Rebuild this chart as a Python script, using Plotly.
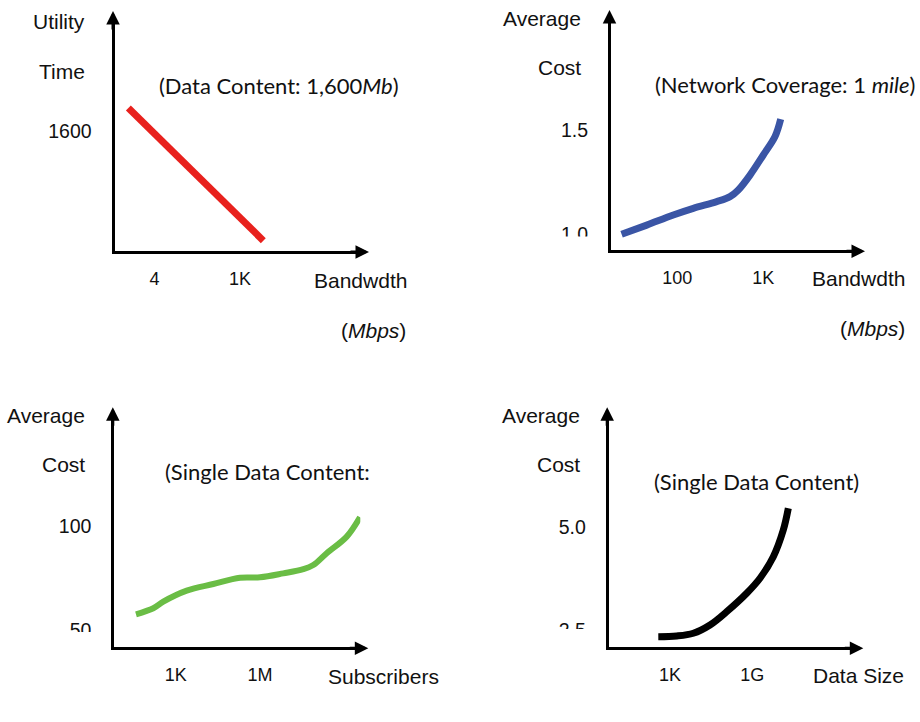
import math
import plotly.graph_objects as go

# ---------------- data ----------------
# Panel 1: Utility Time vs Bandwidth (Mbps), data content 1,600 Mb
bw1 = [0.74, 4500]
util_time1 = [1900, 150]
p1_xtickvals = [4, 1000]
p1_xticktext = ["4", "1K"]
p1_ytickvals = [1600]
p1_yticktext = ["1600"]

# Panel 2: Average Cost vs Bandwidth (Mbps), network coverage 1 mile
bw2 = [22.6, 44.3, 90.1, 153.8, 287.7, 410.6, 512.5, 701, 1000, 1368, 1592]
cost2 = [1.000, 1.044, 1.092, 1.124, 1.156, 1.180, 1.212, 1.283, 1.379, 1.467, 1.550]
p2_xtickvals = [100, 1000]
p2_xticktext = ["100", "1K"]
p2_ytickvals = [1.0, 1.5]
p2_yticktext = ["1.0", "1.5"]

# Panel 3: Average Cost vs Subscribers
subs3 = [38.6, 160, 362, 2460, 21800, 1.94e5, 1.0e6, 6.75e6, 3.47e7, 7.89e7, 2.37e8, 1.22e9, 3.62e9]
cost3 = [57.4, 60.3, 63.5, 68.8, 72.0, 75.0, 75.2, 77.1, 79.1, 81.1, 86.8, 94.8, 104.1]
p3_xtickvals = [1e3, 1e6]
p3_xticktext = ["1K", "1M"]
p3_ytickvals = [50, 100]
p3_yticktext = ["50", "100"]

# Panel 4: Average Cost vs Data Size
size4 = [140, 3080, 5.02e4, 8.32e5, 1.38e7, 3.97e8, 3.71e9, 3.47e10, 1.86e11, 4.32e11]
cost4 = [2.330, 2.347, 2.413, 2.614, 2.937, 3.384, 3.748, 4.272, 4.920, 5.447]
p4_xtickvals = [1e3, 1e9]
p4_xticktext = ["1K", "1G"]
p4_ytickvals = [2.5, 5.0]
p4_yticktext = ["2.5", "5.0"]

# ---------------- layout helpers ----------------
W, H = 920, 722
LABEL_FONT = "Liberation Sans, Arial, sans-serif"
CAPTION_FONT = "Lato, Open Sans, sans-serif"
TXT = "#111111"


def px2x(px):
    return px / W


def px2y(py):
    return 1 - py / H


def axis_range(p0, p1, a, b, log):
    f = math.log10 if log else (lambda v: v)
    ua, ub = f(a[0]), f(b[0])
    s = (ub - ua) / (b[1] - a[1])
    return [ua + (p0 - a[1]) * s, ua + (p1 - a[1]) * s]


panels = [
    dict(x=bw1, y=util_time1, color="#e8211d", width=7, shape="linear",
         ox=113, oy=252, xtip=369, ytip=11,
         xa=(4, 154.5), xb=(1000, 240), ya=(0, 252), yb=(1600, 130.7),
         xtv=p1_xtickvals, xtt=p1_xticktext, ytv=p1_ytickvals, ytt=p1_yticktext),
    dict(x=bw2, y=cost2, color="#3a55a5", width=7, shape="spline",
         ox=609.5, oy=251.3, xtip=865, ytip=10,
         xa=(100, 677.2), xb=(1000, 763.3), ya=(1.0, 234.3), yb=(1.5, 129.7),
         xtv=p2_xtickvals, xtt=p2_xticktext, ytv=p2_ytickvals, ytt=p2_yticktext),
    dict(x=subs3, y=cost3, color="#6abd45", width=6, shape="spline",
         ox=112.8, oy=648.2, xtip=368.3, ytip=407.3,
         xa=(1e3, 175.7), xb=(1e6, 260), ya=(50, 629.7), yb=(100, 525.8),
         xtv=p3_xtickvals, xtt=p3_xticktext, ytv=p3_ytickvals, ytt=p3_yticktext),
    dict(x=size4, y=cost4, color="#000000", width=7, shape="spline",
         ox=607.2, oy=648.3, xtip=863.3, ytip=407.3,
         xa=(1e3, 670), xb=(1e9, 752.2), ya=(2.5, 629.7), yb=(5.0, 526.7),
         xtv=p4_xtickvals, xtt=p4_xticktext, ytv=p4_ytickvals, ytt=p4_yticktext),
]

fig = go.Figure()
layout = {}
annotations = []
shapes = []

for i, p in enumerate(panels):
    n = "" if i == 0 else str(i + 1)
    xname, yname = "x" + n, "y" + n
    fig.add_trace(go.Scatter(
        x=p["x"], y=p["y"], mode="lines",
        line=dict(color=p["color"], width=p["width"], shape=p["shape"], smoothing=1.0),
        xaxis=xname, yaxis=yname, showlegend=False, hoverinfo="skip",
        cliponaxis=False))

    x0, x1 = p["ox"] + 1.5, p["xtip"] - 8
    y0, y1 = p["oy"] - 1.5, p["ytip"] + 8
    layout["xaxis" + n] = dict(
        type="log", domain=[px2x(x0), px2x(x1)],
        range=axis_range(x0, x1, p["xa"], p["xb"], True),
        anchor=yname, showline=True, linewidth=3, linecolor="black",
        showgrid=False, zeroline=False, ticks="",
        tickvals=p["xtv"], ticktext=p["xtt"], ticklabelstandoff=10,
        tickfont=dict(family=LABEL_FONT, size=18, color=TXT), fixedrange=True)
    layout["yaxis" + n] = dict(
        type="linear", domain=[px2y(y0), px2y(y1)],
        range=axis_range(y0, y1, p["ya"], p["yb"], False),
        anchor=xname, showline=True, linewidth=3, linecolor="black",
        showgrid=False, zeroline=False, ticks="",
        tickvals=p["ytv"], ticktext=p["ytt"], ticklabelstandoff=16,
        tickfont=dict(family=LABEL_FONT, size=19.5, color=TXT), fixedrange=True)

    # arrow heads at the end of both axes
    annotations.append(dict(x=px2x(p["xtip"]), y=px2y(p["oy"]), xref="paper", yref="paper",
                            ax=-20, ay=0, text="", showarrow=True, arrowhead=2,
                            arrowsize=0.9, arrowwidth=3, arrowcolor="black"))
    annotations.append(dict(x=px2x(p["ox"]), y=px2y(p["ytip"]), xref="paper", yref="paper",
                            ax=0, ay=20, text="", showarrow=True, arrowhead=2,
                            arrowsize=0.9, arrowwidth=3, arrowcolor="black"))


def label(text, x, y, xanchor="center", size=21, family=LABEL_FONT):
    annotations.append(dict(text=text, x=px2x(x), y=px2y(y), xref="paper", yref="paper",
                            xanchor=xanchor, yanchor="middle", showarrow=False,
                            font=dict(family=family, size=size, color=TXT)))


CAP = 22
# Panel 1 texts
label("Utility", 87.3, 21, "right")
label("Time", 87.3, 71, "right")
label("(Data Content: 1,600<i>Mb</i>)", 156.7, 85.5, "left", CAP, CAPTION_FONT)
label("Bandwdth", 360.3, 280.5)
label("(<i>Mbps</i>)", 408.3, 330, "right")
# Panel 2 texts
label("Average", 583.3, 19, "right")
label("Cost", 583.3, 68, "right")
label("(Network Coverage: 1 <i>mile</i>)", 653.3, 85, "left", CAP, CAPTION_FONT)
label("Bandwdth", 858.8, 278.5)
label("(<i>Mbps</i>)", 906.7, 328, "right")
# Panel 3 texts
label("Average", 87.3, 415.5, "right")
label("Cost", 87.3, 464.5, "right")
label("(Single Data Content:", 162.7, 471, "left", CAP, CAPTION_FONT)
label("Subscribers", 383.8, 676)
# Panel 4 texts
label("Average", 581.7, 415.5, "right")
label("Cost", 581.7, 464.5, "right")
label("(Single Data Content)", 651.7, 481, "left", CAP, CAPTION_FONT)
label("Data Size", 858.8, 675)

# white masks that cut the lowest y tick labels (as in the reference)
for (xa_, xb_, ya_, yb_) in [(550, 600, 236.5, 249), (50, 104, 632, 646), (550, 598, 629, 646)]:
    shapes.append(dict(type="rect", xref="paper", yref="paper", layer="above",
                       x0=px2x(xa_), x1=px2x(xb_), y0=px2y(yb_), y1=px2y(ya_),
                       fillcolor="white", line=dict(width=0)))

fig.update_layout(
    width=W, height=H, margin=dict(l=0, r=0, t=0, b=0),
    paper_bgcolor="white", plot_bgcolor="rgba(0,0,0,0)",
    showlegend=False, annotations=annotations, shapes=shapes, **layout)

fig.write_html("out.html", config={"displayModeBar": False},
               post_script="document.body.style.margin='0';document.body.style.overflow='hidden';")
